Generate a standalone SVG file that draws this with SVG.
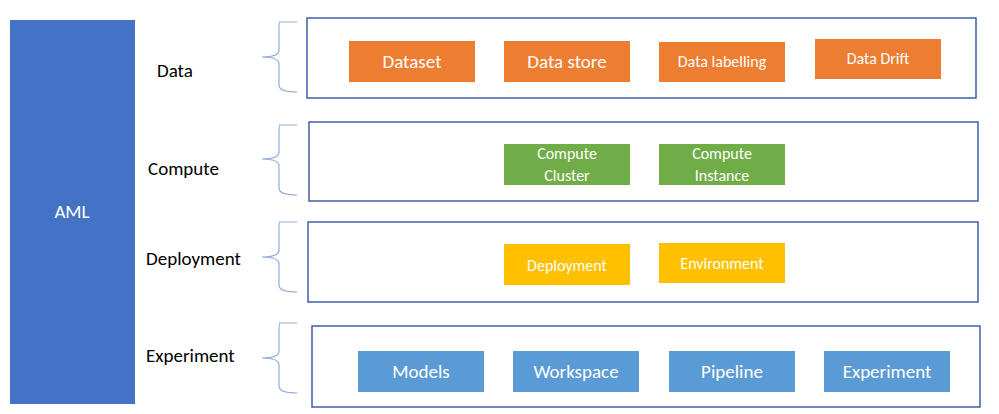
<svg xmlns="http://www.w3.org/2000/svg" width="999" height="414" viewBox="0 0 999 414">
<style>
text{font-family:Carlito,"Liberation Sans",sans-serif;font-size:19px}
.w{fill:#fff;text-anchor:middle}
.s{font-size:16px}
.frame{fill:#fff;stroke:#3f5ea8;stroke-width:1.5}
.br{fill:none;stroke:#8faadc;stroke-width:1.2}
.o{fill:#ed7d31}.g{fill:#70ad47}.y{fill:#ffc000}.b{fill:#5b9bd5}
</style>
<rect width="999" height="414" fill="#fff"/>
<g id="aml"><rect x="10" y="20" width="125" height="384" fill="#4472c4"/><text x="72" y="218" class="w">AML</text></g>
<g id="labels">
<text x="157" y="77">Data</text><text x="148" y="175">Compute</text><text x="146" y="265">Deployment</text><text x="146" y="362">Experiment</text>
</g>
<g id="connectors">
<path class="br" d="M280,22 Q279,22 279,30 L279,50 Q279,57 262,57 Q279,57 279,64 L279,85 Q279,92 297,92 M279,22 L297,22"/>
<path class="br" d="M280,125 Q279,125 279,133 L279,152 Q279,159 262,159 Q279,159 279,166 L279,188 Q279,195 297,195 M279,125 L297,125"/>
<path class="br" d="M280,222 Q279,222 279,230 L279,250 Q279,257 262,257 Q279,257 279,264 L279,285 Q279,292 297,292 M279,222 L297,222"/>
<path class="br" d="M280,323 Q279,323 279,331 L279,351 Q279,358 262,358 Q279,358 279,365 L279,386 Q279,393 297,393 M279,323 L297,323"/>
</g>
<g id="data"><rect class="frame" x="307" y="18" width="669" height="80"/>
<rect class="o" x="349" y="41" width="126" height="41"/><text class="w" x="412" y="68">Dataset</text>
<rect class="o" x="504" y="41" width="126" height="41"/><text class="w" x="567" y="68">Data store</text>
<rect class="o" x="659" y="42" width="126" height="40"/><text class="w s" x="722" y="67">Data labelling</text>
<rect class="o" x="815" y="39" width="126" height="40"/><text class="w s" x="878" y="64">Data Drift</text>
</g>
<g id="compute"><rect class="frame" x="309" y="122" width="669" height="79"/>
<rect class="g" x="504" y="144" width="126" height="41"/><text class="w s" x="567" y="159">Compute</text><text class="w s" x="567" y="181">Cluster</text>
<rect class="g" x="659" y="144" width="126" height="41"/><text class="w s" x="722" y="159">Compute</text><text class="w s" x="722" y="181">Instance</text>
</g>
<g id="deployment"><rect class="frame" x="308" y="222" width="670" height="80"/>
<rect class="y" x="504" y="244" width="126" height="41"/><text class="w s" x="567" y="271">Deployment</text>
<rect class="y" x="659" y="243" width="126" height="40"/><text class="w s" x="722" y="269">Environment</text>
</g>
<g id="experiment"><rect class="frame" x="312" y="326" width="668" height="81"/>
<rect class="b" x="358" y="351" width="126" height="41"/><text class="w" x="421" y="378">Models</text>
<rect class="b" x="513" y="351" width="126" height="41"/><text class="w" x="576" y="378">Workspace</text>
<rect class="b" x="669" y="351" width="126" height="41"/><text class="w" x="732" y="378">Pipeline</text>
<rect class="b" x="824" y="351" width="126" height="41"/><text class="w" x="887" y="378">Experiment</text>
</g>
</svg>
